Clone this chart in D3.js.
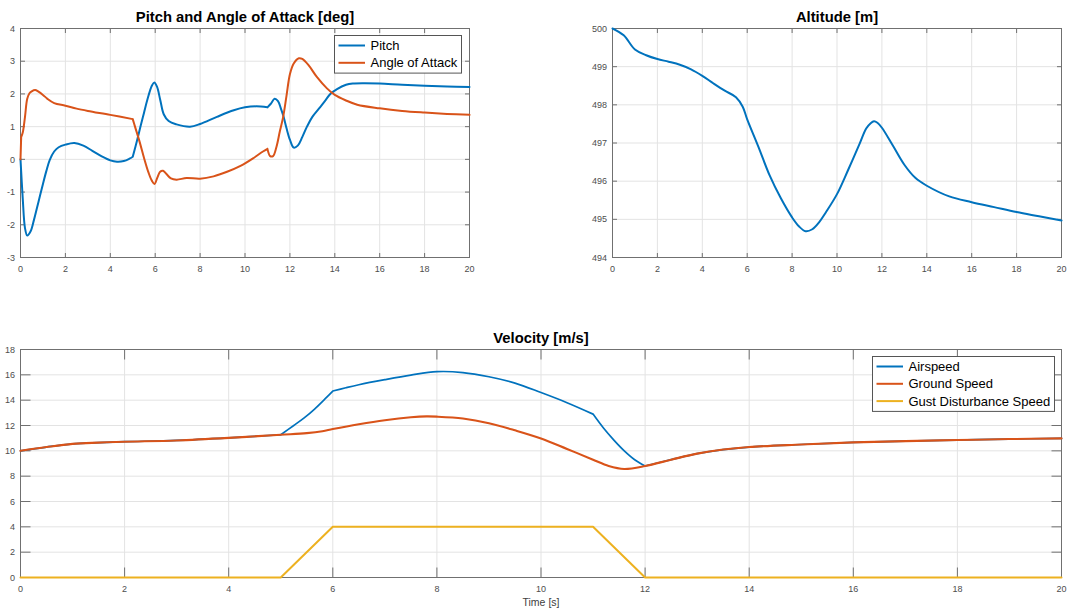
<!DOCTYPE html>
<html>
<head>
<meta charset="utf-8">
<script src="https://cdn.jsdelivr.net/npm/d3@7"></script>
<style>
  html, body { margin: 0; padding: 0; background: #fff; }
  svg { display: block; font-family: "Liberation Sans", Arial, Helvetica, sans-serif; }
</style>
</head>
<body>
<svg id="chart" width="1067" height="612"></svg>
<script>
// ---- Flight response data (time in seconds) ----
const timeTicks = [0, 2, 4, 6, 8, 10, 12, 14, 16, 18, 20];

// Pitch [deg]
const pitchT = [0, 0.1, 0.2, 0.3, 0.45, 0.6, 0.8, 1.0, 1.15, 1.3, 1.5, 1.7, 2.0, 2.4, 2.8, 3.2, 3.6, 4.0, 4.3, 4.6, 4.85, 5.0,
  5.2, 5.35, 5.5, 5.65, 5.85, 5.96, 6.08, 6.23, 6.38, 6.6, 6.95, 7.55, 8.0, 8.75, 9.5, 10.0, 10.5, 11.0,
  11.15, 11.32, 11.47, 11.6, 11.72, 11.85, 12.0, 12.17, 12.35, 12.55, 12.76, 13.0, 13.35, 13.6, 13.8, 14.1, 14.5, 14.8,
  15.3, 16.0, 17.0, 18.0, 19.0, 20.0];
const pitch = [0, -1.2, -2.1, -2.33, -2.2, -1.85, -1.3, -0.75, -0.36, -0.02, 0.24, 0.37, 0.45, 0.5, 0.42, 0.26, 0.1, -0.03, -0.07, -0.05, 0.02, 0.08,
  0.6, 1.02, 1.42, 1.82, 2.25, 2.35, 2.22, 1.8, 1.38, 1.17, 1.07, 1.0, 1.08, 1.3, 1.5, 1.59, 1.62, 1.59,
  1.7, 1.85, 1.78, 1.55, 1.3, 0.95, 0.6, 0.36, 0.42, 0.68, 1.0, 1.3, 1.6, 1.82, 2.0, 2.15, 2.28, 2.32,
  2.33, 2.32, 2.28, 2.25, 2.23, 2.21];
const pitchKinks = [5, 11];

// Angle of attack [deg]
const aoaT = [0, 0.03, 0.1, 0.2, 0.3, 0.4, 0.5, 0.65, 0.8, 1.0, 1.2, 1.5, 2.0, 2.5, 3.0, 4.0, 5.0,
  5.1, 5.3, 5.5, 5.7, 5.85, 5.97, 6.1, 6.22, 6.35, 6.5, 6.7, 6.95, 7.4, 8.0, 8.6, 9.2, 9.8, 10.4, 10.8, 11.0,
  11.12, 11.25, 11.4, 11.55, 11.7, 11.85, 12.0, 12.17, 12.4, 12.55, 12.83, 13.2, 13.65, 14.0, 14.5, 15.0,
  16.0, 17.0, 18.0, 19.0, 20.0];
const aoa = [0, 0.68, 0.82, 1.3, 1.85, 2.02, 2.08, 2.12, 2.07, 1.97, 1.85, 1.72, 1.64, 1.55, 1.48, 1.36, 1.23,
  1.0, 0.55, 0.05, -0.4, -0.65, -0.75, -0.55, -0.38, -0.35, -0.45, -0.58, -0.62, -0.57, -0.59, -0.52, -0.38, -0.2, 0.05, 0.24, 0.32,
  0.1, 0.1, 0.38, 0.85, 1.3, 1.95, 2.6, 2.93, 3.09, 3.07, 2.88, 2.52, 2.17, 1.97, 1.8, 1.67,
  1.56, 1.48, 1.43, 1.39, 1.36];
const aoaKinks = [0.03, 5, 11];

// Altitude [m]
const altT = [0, 0.5, 1.0, 1.5, 2.0, 2.5, 3.0, 3.5, 4.0, 4.5, 5.0, 5.5, 5.8, 6.0, 6.5, 7.0, 7.5, 8.0, 8.3, 8.6,
  8.9, 9.2, 9.5, 10.0, 10.5, 11.0, 11.3, 11.5, 11.65, 11.8, 12.0, 12.5, 13.0, 13.5, 14.0, 15.0, 16.0, 17.0, 18.0, 19.0, 20.0];
const altitude = [500.0, 499.82, 499.45, 499.3, 499.2, 499.13, 499.05, 498.93, 498.76, 498.56, 498.37, 498.2, 497.95, 497.62,
  496.9, 496.15, 495.55, 495.05, 494.82, 494.69, 494.74, 494.92, 495.18, 495.66, 496.3, 496.97, 497.38, 497.52, 497.57, 497.53,
  497.4, 496.92, 496.43, 496.08, 495.88, 495.6, 495.45, 495.32, 495.19, 495.08, 494.97];

// Velocity [m/s]
const groundT = [0, 0.5, 1, 1.5, 2, 3, 4, 5, 5.5, 5.8, 6, 6.5, 7, 7.5, 7.8, 8, 8.5, 9, 9.5, 10, 10.5, 11, 11.3, 11.6,
  12, 12.5, 13, 13.5, 14, 15, 16, 17, 18, 19, 20];
const groundSpeed = [10.0, 10.3, 10.55, 10.65, 10.72, 10.82, 11.02, 11.27, 11.4, 11.55, 11.72, 12.1, 12.42, 12.65, 12.72, 12.7,
  12.55, 12.18, 11.62, 10.98, 10.15, 9.3, 8.8, 8.57, 8.8, 9.3, 9.78, 10.1, 10.3, 10.5, 10.67, 10.77, 10.85, 10.93, 10.98];

const airT = [0, 0.5, 1, 1.5, 2, 3, 4, 5, 5.25, 5.45, 5.65, 5.85, 6, 6.25, 6.5, 7, 7.5, 8, 8.5, 9, 9.5, 10, 10.5, 11,
  11.2, 11.4, 11.6, 11.8, 12, 12.5, 13, 13.5, 14, 15, 16, 17, 18, 19, 20];
const airspeed = [10.0, 10.3, 10.55, 10.65, 10.72, 10.82, 11.02, 11.27, 12.0, 12.6, 13.3, 14.1, 14.72, 14.98, 15.22, 15.62, 15.98,
  16.25, 16.18, 15.85, 15.35, 14.6, 13.8, 12.9, 11.8, 10.85, 10.0, 9.3, 8.8, 9.3, 9.78, 10.1, 10.3, 10.5, 10.67, 10.77,
  10.85, 10.93, 10.98];
const airKinks = [5, 6, 11, 12];

const gustT = [0, 5, 6, 11, 12, 20];
const gustSpeed = [0, 0, 4, 4, 0, 0];

// ---- Styling ----
const C_BLUE = "#0072BD", C_ORANGE = "#D95319", C_YELLOW = "#EDB120";
const GRID = "#e3e3e3", AXIS = "#707070", TICKTXT = "#4d4d4d";
const SMOOTH = d3.curveCatmullRom.alpha(0.5);

const svg = d3.select("#chart");

// Build a smooth path that keeps sharp corners at the given kink times
function kinkedPath(T, V, kinks, x, y, curve) {
  const gen = d3.line().x(d => x(d[0])).y(d => y(d[1])).curve(curve);
  const parts = [];
  let cur = [];
  T.forEach((t, i) => {
    const p = [t, V[i]];
    cur.push(p);
    if (kinks.includes(t) && cur.length > 1) { parts.push(cur); cur = [p]; }
  });
  if (cur.length > 1) parts.push(cur);
  return parts.map(gen).join("");
}

function drawAxes(box, yDomain, yTicks, tickLen, title) {
  const x = d3.scaleLinear().domain([0, 20]).range([box.x0, box.x1]);
  const y = d3.scaleLinear().domain(yDomain).range([box.y1, box.y0]);
  const g = svg.append("g");

  // grid
  g.selectAll(null).data(timeTicks).join("line")
    .attr("x1", d => x(d)).attr("x2", d => x(d))
    .attr("y1", box.y0).attr("y2", box.y1)
    .attr("stroke", GRID).attr("stroke-width", 1);
  g.selectAll(null).data(yTicks).join("line")
    .attr("x1", box.x0).attr("x2", box.x1)
    .attr("y1", d => y(d)).attr("y2", d => y(d))
    .attr("stroke", GRID).attr("stroke-width", 1);

  // inward ticks on all four sides
  const ticks = g.append("g").attr("stroke", AXIS).attr("stroke-width", 1);
  timeTicks.forEach(t => {
    ticks.append("line").attr("x1", x(t)).attr("x2", x(t)).attr("y1", box.y1).attr("y2", box.y1 - tickLen);
    ticks.append("line").attr("x1", x(t)).attr("x2", x(t)).attr("y1", box.y0).attr("y2", box.y0 + tickLen);
  });
  yTicks.forEach(v => {
    ticks.append("line").attr("x1", box.x0).attr("x2", box.x0 + tickLen).attr("y1", y(v)).attr("y2", y(v));
    ticks.append("line").attr("x1", box.x1).attr("x2", box.x1 - tickLen).attr("y1", y(v)).attr("y2", y(v));
  });

  // box
  g.append("rect")
    .attr("x", box.x0).attr("y", box.y0)
    .attr("width", box.x1 - box.x0).attr("height", box.y1 - box.y0)
    .attr("fill", "none").attr("stroke", AXIS).attr("stroke-width", 1);

  // tick labels
  g.selectAll(null).data(timeTicks).join("text")
    .attr("x", d => x(d)).attr("y", box.y1 + 14.5)
    .attr("text-anchor", "middle").attr("font-size", 9).attr("fill", TICKTXT)
    .text(d => d);
  g.selectAll(null).data(yTicks).join("text")
    .attr("x", box.x0 - 5.5).attr("y", d => y(d)).attr("dy", "0.35em")
    .attr("text-anchor", "end").attr("font-size", 9).attr("fill", TICKTXT)
    .text(d => d);

  // title
  svg.append("text")
    .attr("x", (box.x0 + box.x1) / 2).attr("y", box.y0 - 6.5)
    .attr("text-anchor", "middle").attr("font-size", 14.8).attr("font-weight", "bold")
    .attr("fill", "#000").text(title);

  return { x, y };
}

function drawLegend(x0, y0, w, entries) {
  const rowH = 17.3;
  const g = svg.append("g");
  g.append("rect").attr("x", x0).attr("y", y0).attr("width", w).attr("height", entries.length * rowH + 3)
    .attr("fill", "#fff").attr("stroke", "#555").attr("stroke-width", 1);
  entries.forEach((e, i) => {
    const cy = y0 + 10 + i * rowH;
    g.append("line").attr("x1", x0 + 4).attr("x2", x0 + 30.5).attr("y1", cy).attr("y2", cy)
      .attr("stroke", e.color).attr("stroke-width", 2);
    g.append("text").attr("x", x0 + 36).attr("y", cy).attr("dy", "0.35em")
      .attr("font-size", 13).attr("fill", "#000").text(e.label);
  });
}

function drawSeries(s, T, V, kinks, color, curve, width) {
  svg.append("path")
    .attr("d", kinkedPath(T, V, kinks, s.x, s.y, curve))
    .attr("fill", "none").attr("stroke", color).attr("stroke-width", width || 2)
    .attr("stroke-linecap", "round").attr("stroke-linejoin", "round");
}

// ---- Pitch and angle of attack ----
const pa = drawAxes({ x0: 20.5, x1: 469.5, y0: 28.5, y1: 257.5 }, [-3, 4], d3.range(-3, 5, 1), 4.5,
  "Pitch and Angle of Attack [deg]");
drawSeries(pa, pitchT, pitch, pitchKinks, C_BLUE, SMOOTH);
drawSeries(pa, aoaT, aoa, aoaKinks, C_ORANGE, SMOOTH);
drawLegend(334.5, 35.5, 127, [
  { label: "Pitch", color: C_BLUE },
  { label: "Angle of Attack", color: C_ORANGE }
]);

// ---- Altitude ----
const al = drawAxes({ x0: 612.5, x1: 1061.5, y0: 28.5, y1: 257.5 }, [494, 500], d3.range(494, 501, 1), 4.5,
  "Altitude [m]");
drawSeries(al, altT, altitude, [], C_BLUE, SMOOTH);

// ---- Velocity ----
const ve = drawAxes({ x0: 20.5, x1: 1061.5, y0: 349.5, y1: 577.5 }, [0, 18], d3.range(0, 19, 2), 10,
  "Velocity [m/s]");
// airspeed sits under the ground-speed trace where the two coincide
drawSeries(ve, airT, airspeed, airKinks, C_BLUE, SMOOTH, 1.7);
drawSeries(ve, groundT, groundSpeed, [], C_ORANGE, SMOOTH, 2.1);
drawSeries(ve, gustT, gustSpeed, [], C_YELLOW, d3.curveLinear);
svg.append("text")
  .attr("x", (20.5 + 1061.5) / 2).attr("y", 605.5)
  .attr("text-anchor", "middle").attr("font-size", 10.5).attr("fill", "#404040")
  .text("Time [s]");
drawLegend(872.5, 356.5, 182, [
  { label: "Airspeed", color: C_BLUE },
  { label: "Ground Speed", color: C_ORANGE },
  { label: "Gust Disturbance Speed", color: C_YELLOW }
]);
</script>
</body>
</html>
